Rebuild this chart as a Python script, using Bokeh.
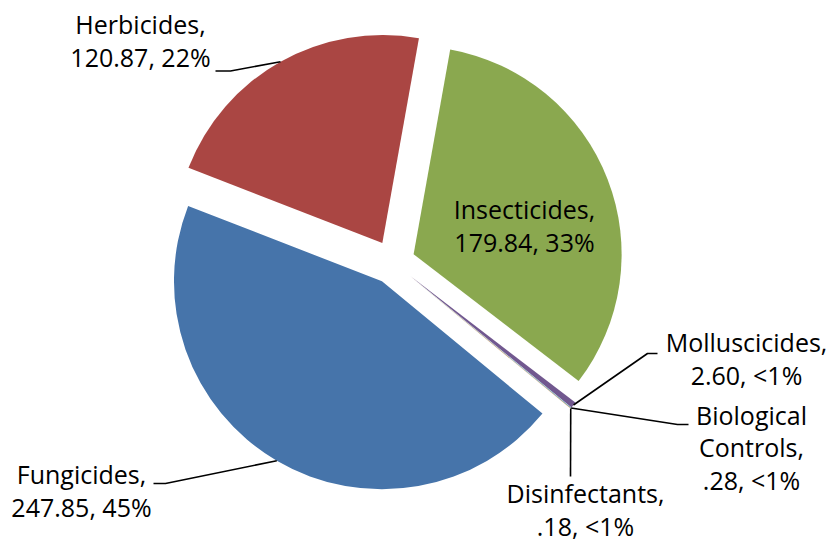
import math
from bokeh.plotting import figure
from bokeh.models import Range1d, ColumnDataSource
from bokeh.embed import file_html
from bokeh.resources import INLINE
from bokeh.core.properties import value

# ---- data ----
categories = ["Fungicides", "Herbicides", "Insecticides", "Molluscicides",
              "Biological Controls", "Disinfectants"]
amounts = [247.85, 120.87, 179.84, 2.60, 0.28, 0.18]
colors = ["#4674AA", "#AA4643", "#8AA84F", "#71588F", "#4198AF", "#DB843D"]
name_lines = ["Fungicides,", "Herbicides,", "Insecticides,", "Molluscicides,",
              "Biological\nControls,", "Disinfectants,"]

# ---- layout (screen pixel coordinates, y downward) ----
W, H = 832, 546
CX, CY = 392.6, 261.8      # pie centre
R = 208.0                  # radius
EXPLODE = 22.0             # explosion distance
START = 129.5              # first slice angle, deg clockwise from 12 o'clock
# label centre and leader elbow/end points (screen coords)
label_pos = [(81, 490), (140, 40), (524, 225), (746, 358), (751, 447), (585, 509)]
leader_pts = [
    [(165, 483), (153, 483)],
    [(230, 70.5), (215, 70.5)],
    None,
    [(647, 353), (657, 353)],
    [(677, 424), (688, 424)],
    [(570, 476)],
]

def sy(y):  # screen y -> data y
    return 546 - y

total = sum(amounts)

def fmt_val(v):
    s = f"{v:.2f}"
    return s[1:] if s.startswith("0") else s

def fmt_pct(v):
    p = v / total * 100
    return "<1%" if p < 1 else f"{round(p)}%"

p = figure(width=W, height=H, output_backend="svg", toolbar_location=None,
           x_range=Range1d(0, W), y_range=Range1d(546 - H, 546),
           x_axis_type=None, y_axis_type=None, min_border=0)
p.outline_line_color = None
p.grid.visible = False
p.background_fill_color = "white"

wx, wy, sa, ea = [], [], [], []
lead_xs, lead_ys = [], []
tx, ty, tt = [], [], []
theta = START
for i, v in enumerate(amounts):
    span = v / total * 360.0
    t1, t2 = theta, theta + span
    theta = t2
    mid = math.radians((t1 + t2) / 2)
    dx, dy = math.sin(mid), math.cos(mid)
    vx, vy = CX + EXPLODE * dx, sy(CY) + EXPLODE * dy
    wx.append(vx); wy.append(vy)
    sa.append(math.radians(90 - t2)); ea.append(math.radians(90 - t1))
    if leader_pts[i] is not None:
        xs = [vx + R * dx] + [q[0] for q in leader_pts[i]]
        ys = [vy + R * dy] + [sy(q[1]) for q in leader_pts[i]]
        lead_xs.append(xs); lead_ys.append(ys)
    tx.append(label_pos[i][0]); ty.append(sy(label_pos[i][1]))
    tt.append(f"{name_lines[i]}\n{fmt_val(v)}, {fmt_pct(v)}")

src = ColumnDataSource(dict(x=wx, y=wy, start=sa, end=ea, color=colors))
p.wedge(x="x", y="y", radius=R, start_angle="start", end_angle="end",
        direction="anticlock", fill_color="color", line_color=None, source=src)

p.multi_line(xs=lead_xs, ys=lead_ys, line_color="black", line_width=1.6)

p.text(x=tx, y=ty, text=tt, text_align="center", text_baseline="middle",
       text_font=value("Open Sans"), text_font_size="25px",
       text_line_height=0.96, text_color="black")

open("out.html", "w").write(file_html(p, INLINE))
